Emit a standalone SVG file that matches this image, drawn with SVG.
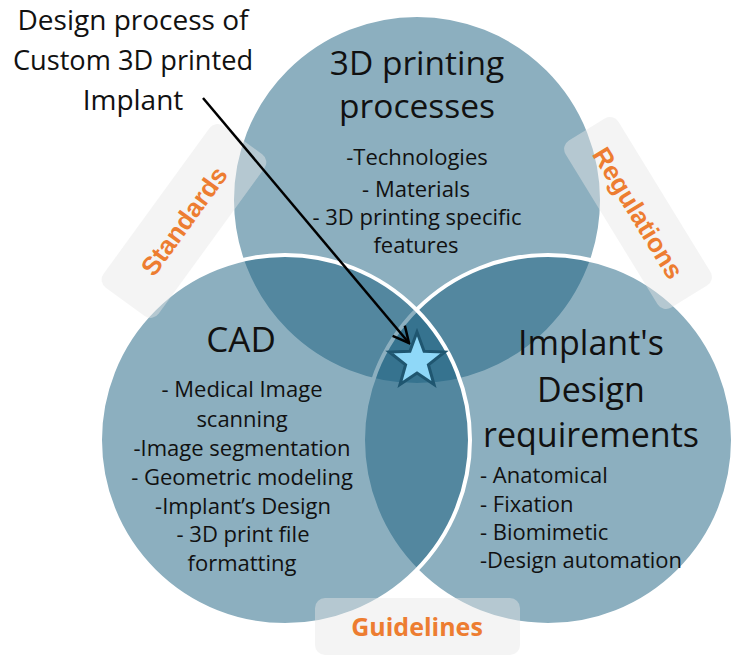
<svg xmlns="http://www.w3.org/2000/svg" width="744" height="662" viewBox="0 0 744 662">
<defs>
<style>
.circ{fill:#1a5f80;fill-opacity:0.5;stroke:#ffffff;stroke-width:4}
.t{font-family:"Open Sans","Liberation Sans",sans-serif;fill:#111;text-anchor:middle}
.title{font-size:34px}
.item{font-size:22px}
.lbox{fill:#e6e6e6;fill-opacity:0.45}
.ltxt{font-family:"Liberation Sans",Arial,sans-serif;font-weight:bold;font-size:26px;fill:#ed7d31;text-anchor:middle}
</style>
<marker id="arr" viewBox="0 0 20 20" refX="18" refY="10" markerWidth="20" markerHeight="20" markerUnits="userSpaceOnUse" orient="auto">
<path d="M2,2 L18,10 L2,18" fill="none" stroke="#000" stroke-width="2.5" stroke-linejoin="miter"/>
</marker>
</defs>
<rect width="744" height="662" fill="#ffffff"/>

<g id="node-3d-printing">
<circle class="circ" cx="417" cy="200" r="185"/>
<text class="t" style="font-size:33.5px" x="417" y="75">3D printing</text>
<text class="t" style="font-size:33.5px" x="417" y="118">processes</text>
<text class="t item" x="417" y="165">-Technologies</text>
<text class="t item" x="416" y="197">- Materials</text>
<text class="t item" x="417" y="225">- 3D printing specific</text>
<text class="t item" x="416" y="253">features</text>
</g>

<g id="node-implant">
<circle class="circ" cx="548" cy="440" r="185"/>
<text class="t title" x="591" y="355">Implant's</text>
<text class="t title" x="591" y="402">Design</text>
<text class="t title" x="591" y="447">requirements</text>
<text class="t item" style="text-anchor:start" x="480" y="483">- Anatomical</text>
<text class="t item" style="text-anchor:start" x="480" y="512">- Fixation</text>
<text class="t item" style="text-anchor:start" x="480" y="540">- Biomimetic</text>
<text class="t item" style="text-anchor:start" x="480" y="568">-Design automation</text>
</g>

<g id="node-cad">
<circle class="circ" cx="285" cy="440" r="185"/>
<text class="t" style="font-size:35px" x="241" y="352">CAD</text>
<text class="t item" x="242" y="397">- Medical Image</text>
<text class="t item" x="242" y="427">scanning</text>
<text class="t item" x="242" y="456">-Image segmentation</text>
<text class="t item" x="242" y="485">- Geometric modeling</text>
<text class="t item" x="243" y="514">-Implant’s Design</text>
<text class="t item" x="243" y="542">- 3D print file</text>
<text class="t item" x="242" y="571">formatting</text>
</g>

<g id="label-standards" transform="translate(184,221) rotate(-54)">
<rect class="lbox" x="-100" y="-34" width="200" height="68" rx="10"/>
<text class="ltxt" x="0" y="9">Standards</text>
</g>

<g id="label-regulations" transform="translate(638,213) rotate(58.5)">
<rect class="lbox" x="-98" y="-31" width="196" height="62" rx="10"/>
<text class="ltxt" x="0" y="9">Regulations</text>
</g>

<g id="label-guidelines">
<rect class="lbox" x="315" y="598" width="205" height="57" rx="10"/>
<text class="ltxt" style="font-family:'Open Sans','Liberation Sans',sans-serif;font-size:25px" x="417" y="636">Guidelines</text>
</g>

<g id="node-star">
<path d="M417,332 L424.1,351.3 L444.6,352 L428.4,364.7 L434,384.5 L417,373 L400,384.5 L405.6,364.7 L389.4,352 L409.9,351.3 Z" fill="#8fd8f8" stroke="#1f5670" stroke-width="3" stroke-linejoin="miter"/>
</g>

<g id="node-title">
<text class="t" style="font-size:28px" x="133" y="30">Design process of</text>
<text class="t" style="font-size:27.2px" x="133" y="70">Custom 3D printed</text>
<text class="t" style="font-size:28px" x="133" y="110">Implant</text>
</g>

<g id="connectors">
<line x1="203" y1="98" x2="409" y2="343" stroke="#000" stroke-width="2.5" marker-end="url(#arr)"/>
</g>
</svg>
